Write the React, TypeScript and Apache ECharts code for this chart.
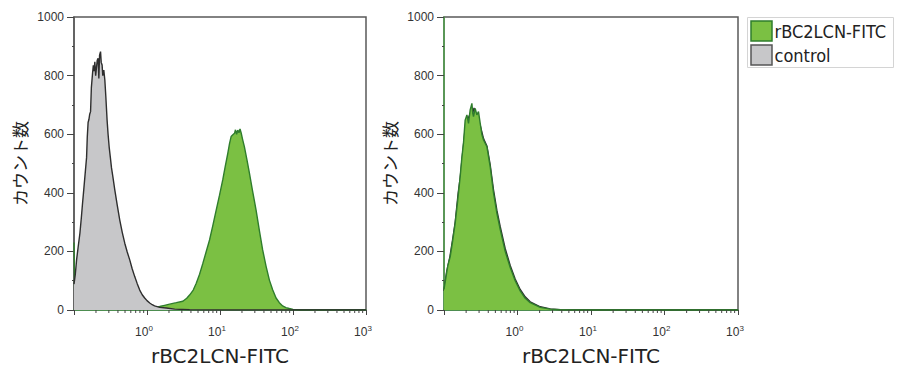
import React, { useEffect, useRef } from "react";
import * as echarts from "echarts";

// ---- data ----
const SERIES_SAMPLE = "rBC2LCN-FITC";
const SERIES_CONTROL = "control";
const X_AXIS_TITLE = "rBC2LCN-FITC";
const Y_AXIS_TITLE = "カウント数";

// Left panel: control (grey)
const leftControlX = [0.1, 0.104, 0.1085, 0.114, 0.1205, 0.126, 0.131, 0.136, 0.141, 0.1486, 0.152, 0.156, 0.16, 0.164, 0.1686, 0.173, 0.1795, 0.184, 0.188, 0.193, 0.198, 0.2037, 0.208, 0.214, 0.219, 0.224, 0.231, 0.236, 0.2427, 0.248, 0.256, 0.2645, 0.273, 0.284, 0.293, 0.303, 0.315, 0.3265, 0.343, 0.362, 0.39, 0.4236, 0.458, 0.496, 0.536, 0.58, 0.628, 0.679, 0.735, 0.795, 0.86, 0.93, 1.0, 1.09, 1.18, 1.27, 1.49, 1.84, 2.39, 3.83, 9.8, 1000];
const leftControlY = [88, 120, 171, 215, 262, 315, 365, 410, 455, 520, 590, 640, 650, 668, 677, 760, 808, 835, 815, 847, 800, 830, 852, 859, 790, 870, 882, 845, 836, 800, 819, 785, 728, 648, 600, 557, 520, 485, 450, 410, 360, 307, 265, 228, 198, 171, 140, 114, 90, 68, 52, 41, 32, 24, 18, 14, 9, 7, 3, 1, 0, 0];

// Left panel: rBC2LCN-FITC (green)
const leftSampleX = [0.1, 0.103, 0.5, 1.0, 1.09, 1.27, 1.49, 1.74, 2.04, 2.52, 3.1, 3.5, 3.83, 4.3, 4.73, 5.25, 5.82, 6.45, 7.19, 8.0, 8.87, 9.85, 10.9, 11.8, 12.8, 13.5, 14.2, 15.0, 15.8, 16.3, 16.9, 17.5, 18.2, 18.8, 19.5, 20.5, 21.6, 23.3, 25.3, 28.0, 31.2, 34.6, 38.4, 42.7, 47.5, 52.8, 58.6, 65, 72.1, 80, 89, 100, 122, 1000];
const leftSampleY = [230, 2, 2, 3, 5, 8, 12, 16, 20, 25, 30, 40, 51, 68, 91, 122, 159, 198, 239, 290, 341, 392, 444, 490, 535, 568, 592, 598, 603, 615, 600, 614, 605, 618, 604, 580, 557, 515, 467, 405, 341, 272, 205, 150, 102, 68, 41, 25, 14, 8, 5, 2, 0, 0];

// Right panel: control (grey)
const rightControlX = [0.1, 0.1085, 0.12, 0.131, 0.142, 0.156, 0.166, 0.18, 0.194, 0.21, 0.227, 0.2396, 0.256, 0.273, 0.29, 0.311, 0.345, 0.3835, 0.425, 0.4716, 0.5245, 0.5815, 0.68, 0.796, 0.93, 1.088, 1.273, 1.489, 2.04, 2.79, 3.81, 6, 1000];
const rightControlY = [65, 130, 180, 240, 300, 400, 450, 540, 620, 650, 670, 660, 690, 665, 650, 630, 585, 560, 495, 410, 340, 285, 210, 152, 106, 70, 45, 28, 11, 4, 1, 0, 0];

// Right panel: rBC2LCN-FITC (green)
const rightSampleX = [0.1, 0.106, 0.1125, 0.1215, 0.131, 0.142, 0.153, 0.166, 0.175, 0.184, 0.194, 0.205, 0.2155, 0.227, 0.2396, 0.246, 0.252, 0.2657, 0.28, 0.2946, 0.311, 0.327, 0.345, 0.3835, 0.425, 0.4716, 0.5245, 0.5815, 0.68, 0.796, 0.93, 1.088, 1.273, 1.489, 2.04, 2.79, 3.81, 6, 1000];
const rightSampleY = [70, 110, 150, 182, 235, 296, 370, 455, 520, 569, 648, 666, 637, 683, 705, 672, 660, 688, 666, 677, 637, 600, 580, 557, 489, 400, 330, 275, 200, 145, 100, 65, 40, 25, 9, 3, 1, 0, 0];

// Axis ticks
const yTickValues = [0, 200, 400, 600, 800, 1000];
const xMinorTicks = [0.2, 0.3, 0.4, 0.5, 0.6, 0.7, 0.8, 0.9, 2, 3, 4, 5, 6, 7, 8, 9, 20, 30, 40, 50, 60, 70, 80, 90, 200, 300, 400, 500, 600, 700, 800, 900];

const zip = (xs: number[], ys: number[]) => xs.map((x, i) => [x, ys[i]]);

const GREEN_FILL = "#7bc043";
const GREEN_LINE = "#2f7d2c";
const GREY_FILL = "#c7c7c9";
const GREY_LINE = "#2e2e2e";
const FRAME = "#5a5a5a";

export default function App() {
  const ref = useRef<HTMLDivElement>(null);
  useEffect(() => {
    if (!ref.current) return;
    const chart = echarts.init(ref.current, undefined, { renderer: "svg" });

    const grids = [
      { left: 74, top: 17, width: 292, height: 293 },
      { left: 444, top: 17, width: 294, height: 293 },
    ];

    const xAxis = grids.map((_, i) => ({
      type: "log",
      logBase: 10,
      gridIndex: i,
      min: 0.1,
      max: 1000,
      name: X_AXIS_TITLE,
      nameLocation: "middle",
      nameGap: 36,
      nameTextStyle: { fontFamily: "DejaVu Sans", fontSize: 20, color: "#222" },
      axisLine: { show: true, lineStyle: { color: "#3d9140", width: 1.5 } },
      axisTick: { show: true, length: 5, lineStyle: { color: "#444", width: 1 } },
      splitLine: { show: false },
      minorTick: { show: false },
      axisLabel: {
        margin: 14,
        padding: [0, 6, 0, 0],
        formatter: (v: number) => {
          const e = Math.round(Math.log10(v));
          if (e < 0) return "";
          return "10{s|" + e + "}";
        },
        fontFamily: "Liberation Sans",
        fontSize: 12,
        lineHeight: 16,
        color: "#333",
        rich: { s: { fontSize: 8, lineHeight: 8, verticalAlign: "top", fontFamily: "Liberation Sans", color: "#333" } },
      },
    }));

    const yAxis = grids.map((_, i) => ({
      type: "value",
      gridIndex: i,
      min: yTickValues[0],
      max: yTickValues[yTickValues.length - 1],
      interval: 200,
      name: Y_AXIS_TITLE,
      nameLocation: "middle",
      nameGap: 46,
      nameTextStyle: { fontFamily: "Noto Sans CJK JP", fontSize: 17, color: "#222" },
      axisLine: { show: true, lineStyle: { color: i === 0 ? FRAME : "#4c9e48", width: 1.5 } },
      axisTick: { show: true, length: 7, lineStyle: { color: "#444", width: 1 } },
      minorTick: { show: true, splitNumber: 2, length: 2, lineStyle: { color: "#444", width: 1 } },
      splitLine: { show: false },
      axisLabel: {
        margin: 10,
        fontFamily: "Liberation Sans",
        fontSize: 12,
        color: "#333",
        formatter: (v: number) => String(v),
      },
    }));

    const area = (name: string, xs: number[], ys: number[], idx: number, fill: string, line: string, z: number) => ({
      name,
      type: "line",
      xAxisIndex: idx,
      yAxisIndex: idx,
      data: zip(xs, ys),
      showSymbol: false,
      symbol: "none",
      smooth: false,
      z,
      lineStyle: { color: line, width: 1.4 },
      itemStyle: { color: fill },
      areaStyle: { color: fill, opacity: 1 },
    });

    const minorTicks = (idx: number) => ({
      type: "custom",
      xAxisIndex: idx,
      yAxisIndex: idx,
      silent: true,
      clip: false,
      z: 10,
      encode: { x: 0, y: 1 },
      data: xMinorTicks.map((v) => [v, 0]),
      renderItem: (_p: any, api: any) => {
        const pt = api.coord([api.value(0), 0]);
        return {
          type: "line",
          shape: { x1: pt[0], y1: pt[1], x2: pt[0], y2: pt[1] + 3 },
          style: { stroke: "#444", lineWidth: 1 },
        };
      },
    });

    chart.setOption({
      animation: false,
      backgroundColor: "#ffffff",
      grid: grids.map((g) => ({
        ...g,
        outerBoundsMode: "none",
        containLabel: false,
        show: true,
        borderColor: FRAME,
        borderWidth: 1.5,
        backgroundColor: "transparent",
      })),
      xAxis,
      yAxis,
      series: [
        area(SERIES_SAMPLE, leftSampleX, leftSampleY, 0, GREEN_FILL, GREEN_LINE, 2),
        area(SERIES_CONTROL, leftControlX, leftControlY, 0, GREY_FILL, GREY_LINE, 3),
        minorTicks(0),
        area(SERIES_CONTROL, rightControlX, rightControlY, 1, GREY_FILL, GREY_LINE, 2),
        area(SERIES_SAMPLE, rightSampleX, rightSampleY, 1, GREEN_FILL, GREEN_LINE, 3),
        minorTicks(1),
      ],
      graphic: [
        {
          type: "group",
          left: 747,
          top: 17,
          children: [
            { type: "rect", shape: { x: 0, y: 0, width: 146, height: 50 }, style: { fill: "#fff", stroke: "#d4d4d4", lineWidth: 1 } },
            { type: "rect", shape: { x: 3.5, y: 3.5, width: 21, height: 20 }, style: { fill: GREEN_FILL, stroke: GREEN_LINE, lineWidth: 1.5 } },
            { type: "rect", shape: { x: 3.5, y: 27.5, width: 21, height: 20 }, style: { fill: GREY_FILL, stroke: "#555", lineWidth: 1.5 } },
            { type: "text", x: 27, y: 13.5, style: { text: SERIES_SAMPLE, fontFamily: "'DejaVu Sans Condensed', 'DejaVu Sans'", fontSize: 18, fill: "#222", textVerticalAlign: "middle", verticalAlign: "middle" } },
            { type: "text", x: 27, y: 37.5, style: { text: SERIES_CONTROL, fontFamily: "'DejaVu Sans Condensed', 'DejaVu Sans'", fontSize: 18, fill: "#222", textVerticalAlign: "middle", verticalAlign: "middle" } },
          ],
        },
      ],
    });
    return () => chart.dispose();
  }, []);
  return <div ref={ref} style={{ position: "absolute", left: 0, top: 0, width: 903, height: 369, background: "#fff" }} />;
}
